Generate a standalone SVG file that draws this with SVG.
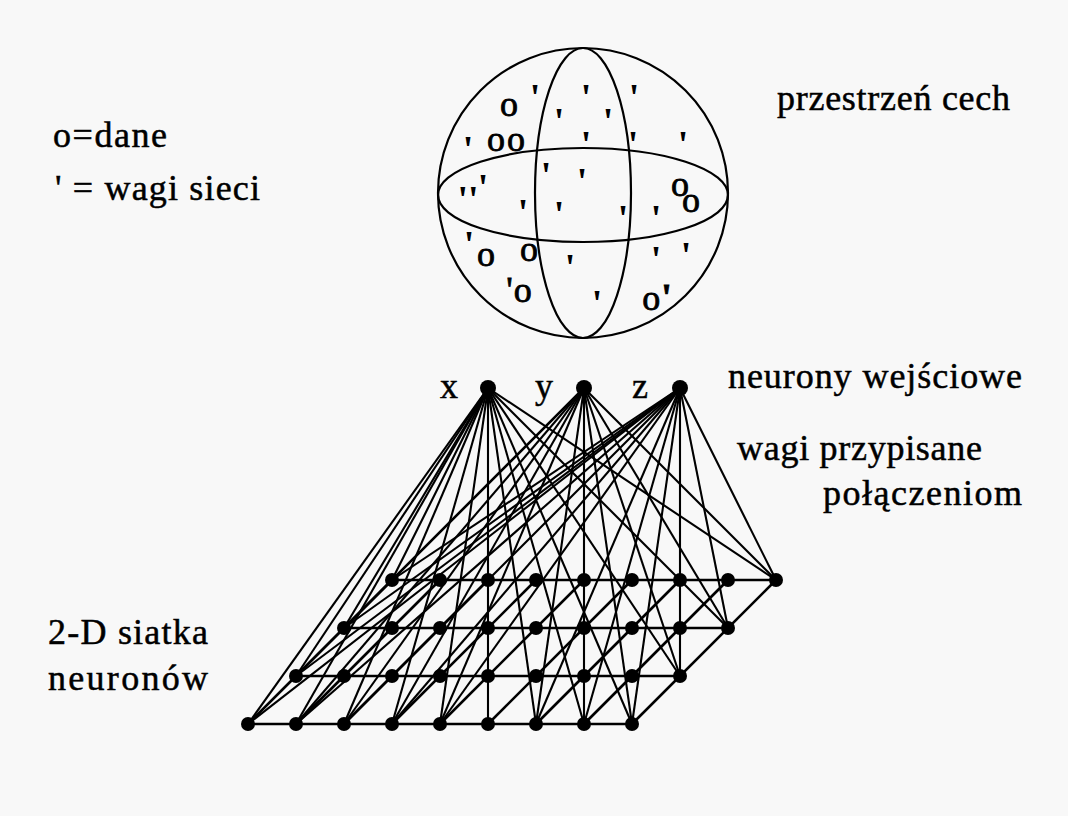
<svg xmlns="http://www.w3.org/2000/svg" width="1068" height="816" viewBox="0 0 1068 816">
<style>
.bg{fill:#f8f8f8}
.lbl{font-family:"Liberation Serif","Times New Roman",serif;font-size:36px;fill:#000;stroke:#000;stroke-width:0.5}
.mk{font-family:"Liberation Serif","Times New Roman",serif;font-size:36px;fill:#000;stroke:#000;stroke-width:0.8;text-anchor:middle}
.tk{font-family:"Liberation Serif","Times New Roman",serif;font-size:38px;font-weight:bold;fill:#000;text-anchor:middle}
.sph{fill:none;stroke:#000;stroke-width:2.2}
.grid line{stroke:#000;stroke-width:2.6}
.conn line{stroke:#000;stroke-width:2.1}
.dot{fill:#000}
</style>
<rect class="bg" x="0" y="0" width="1068" height="816"/>

<g id="legend">
<text class="lbl" x="53" y="147" textLength="114">o=dane</text>
<text class="lbl" x="55" y="200" textLength="205">' = wagi sieci</text>
</g>

<g id="feature-space">
<circle class="sph" cx="583" cy="193" r="145"/>
<ellipse class="sph" cx="583" cy="195" rx="145" ry="47"/>
<ellipse class="sph" cx="583" cy="193" rx="48" ry="145"/>
<g id="data-points">
<text class="mk" x="509" y="116">o</text>
<text class="mk" x="506" y="151">o<tspan dx="2">o</tspan></text>
<text class="mk" x="680" y="196">o<tspan x="691" dy="16">o</tspan></text>
<text class="mk" x="486" y="266">o</text>
<text class="mk" x="529" y="261">o</text>
<text class="mk" x="519" y="302">'<tspan dx="1">o</tspan></text>
<text class="mk" x="657" y="310">o<tspan class="tk" dx="1">'</tspan></text>
</g>
<g id="weights">
<text class="tk" x="535" y="110">'</text>
<text class="tk" x="586" y="110">'</text>
<text class="tk" x="634" y="110">'</text>
<text class="tk" x="559" y="134">'</text>
<text class="tk" x="608" y="134">'</text>
<text class="tk" x="468" y="162">'</text>
<text class="tk" x="586" y="157">'</text>
<text class="tk" x="633" y="157">'</text>
<text class="tk" x="683" y="157">'</text>
<text class="tk" x="546" y="188">'</text>
<text class="tk" x="582" y="194">'</text>
<text class="tk"><tspan x="483" y="200">'</tspan><tspan x="468" y="212">''</tspan></text>
<text class="tk" x="523" y="225">'</text>
<text class="tk" x="559" y="227">'</text>
<text class="tk" x="623" y="231">'</text>
<text class="tk" x="656" y="231">'</text>
<text class="tk" x="469" y="257">'</text>
<text class="tk" x="656" y="272">'</text>
<text class="tk" x="686" y="268">'</text>
<text class="tk" x="570" y="280">'</text>
<text class="tk" x="597" y="316">'</text>
</g>
</g>
<text class="lbl" x="777" y="110" textLength="233">przestrzeń cech</text>

<g id="connectors" class="conn">
<line x1="488" y1="388" x2="248" y2="724"/>
<line x1="488" y1="388" x2="296" y2="724"/>
<line x1="488" y1="388" x2="344" y2="724"/>
<line x1="488" y1="388" x2="392" y2="724"/>
<line x1="488" y1="388" x2="440" y2="724"/>
<line x1="488" y1="388" x2="488" y2="724"/>
<line x1="488" y1="388" x2="536" y2="724"/>
<line x1="488" y1="388" x2="584" y2="724"/>
<line x1="488" y1="388" x2="632" y2="724"/>
<line x1="488" y1="388" x2="296" y2="676"/>
<line x1="488" y1="388" x2="344" y2="628"/>
<line x1="488" y1="388" x2="392" y2="580"/>
<line x1="488" y1="388" x2="680" y2="676"/>
<line x1="488" y1="388" x2="728" y2="628"/>
<line x1="488" y1="388" x2="776" y2="580"/>

<line x1="584" y1="388" x2="248" y2="724"/>
<line x1="584" y1="388" x2="296" y2="724"/>
<line x1="584" y1="388" x2="344" y2="724"/>
<line x1="584" y1="388" x2="392" y2="724"/>
<line x1="584" y1="388" x2="440" y2="724"/>
<line x1="584" y1="388" x2="536" y2="724"/>
<line x1="584" y1="388" x2="584" y2="724"/>
<line x1="584" y1="388" x2="632" y2="724"/>
<line x1="584" y1="388" x2="296" y2="676"/>
<line x1="584" y1="388" x2="344" y2="628"/>
<line x1="584" y1="388" x2="680" y2="676"/>
<line x1="584" y1="388" x2="728" y2="628"/>
<line x1="584" y1="388" x2="776" y2="580"/>

<line x1="680" y1="388" x2="248" y2="724"/>
<line x1="680" y1="388" x2="296" y2="724"/>
<line x1="680" y1="388" x2="344" y2="724"/>
<line x1="680" y1="388" x2="392" y2="724"/>
<line x1="680" y1="388" x2="440" y2="724"/>
<line x1="680" y1="388" x2="536" y2="724"/>
<line x1="680" y1="388" x2="584" y2="724"/>
<line x1="680" y1="388" x2="632" y2="724"/>
<line x1="680" y1="388" x2="680" y2="676"/>
<line x1="680" y1="388" x2="728" y2="628"/>
<line x1="680" y1="388" x2="776" y2="580"/>
<line x1="680" y1="388" x2="392" y2="580"/>
<line x1="680" y1="388" x2="344" y2="628"/>
<line x1="680" y1="388" x2="296" y2="676"/>
</g>

<g id="grid-lines" class="grid">
<line x1="248" y1="724" x2="632" y2="724"/>
<line x1="296" y1="676" x2="680" y2="676"/>
<line x1="344" y1="628" x2="728" y2="628"/>
<line x1="392" y1="580" x2="776" y2="580"/>
<line x1="248" y1="724" x2="392" y2="580"/>
<line x1="296" y1="724" x2="440" y2="580"/>
<line x1="344" y1="724" x2="488" y2="580"/>
<line x1="392" y1="724" x2="536" y2="580"/>
<line x1="440" y1="724" x2="584" y2="580"/>
<line x1="488" y1="724" x2="632" y2="580"/>
<line x1="536" y1="724" x2="680" y2="580"/>
<line x1="584" y1="724" x2="728" y2="580"/>
<line x1="632" y1="724" x2="776" y2="580"/>
</g>

<g id="input-x"><circle class="dot" cx="488" cy="388" r="8"/><text class="lbl" x="440" y="398">x</text></g>
<g id="input-y"><circle class="dot" cx="584" cy="388" r="8"/><text class="lbl" x="535" y="398">y</text></g>
<g id="input-z"><circle class="dot" cx="680" cy="388" r="8"/><text class="lbl" x="632" y="398">z</text></g>
<text class="lbl" x="728" y="388" textLength="294">neurony wejściowe</text>
<text class="lbl" x="737" y="460" textLength="245">wagi przypisane</text>
<text class="lbl" x="823" y="505" textLength="199">połączeniom</text>

<g id="grid-nodes" class="dot">
<circle cx="248" cy="724" r="7"/><circle cx="296" cy="724" r="7"/><circle cx="344" cy="724" r="7"/><circle cx="392" cy="724" r="7"/><circle cx="440" cy="724" r="7"/><circle cx="488" cy="724" r="7"/><circle cx="536" cy="724" r="7"/><circle cx="584" cy="724" r="7"/><circle cx="632" cy="724" r="7"/>
<circle cx="296" cy="676" r="7"/><circle cx="344" cy="676" r="7"/><circle cx="392" cy="676" r="7"/><circle cx="440" cy="676" r="7"/><circle cx="488" cy="676" r="7"/><circle cx="536" cy="676" r="7"/><circle cx="584" cy="676" r="7"/><circle cx="632" cy="676" r="7"/><circle cx="680" cy="676" r="7"/>
<circle cx="344" cy="628" r="7"/><circle cx="392" cy="628" r="7"/><circle cx="440" cy="628" r="7"/><circle cx="488" cy="628" r="7"/><circle cx="536" cy="628" r="7"/><circle cx="584" cy="628" r="7"/><circle cx="632" cy="628" r="7"/><circle cx="680" cy="628" r="7"/><circle cx="728" cy="628" r="7"/>
<circle cx="392" cy="580" r="7"/><circle cx="440" cy="580" r="7"/><circle cx="488" cy="580" r="7"/><circle cx="536" cy="580" r="7"/><circle cx="584" cy="580" r="7"/><circle cx="632" cy="580" r="7"/><circle cx="680" cy="580" r="7"/><circle cx="728" cy="580" r="7"/><circle cx="776" cy="580" r="7"/>
</g>
<text class="lbl" x="48" y="644" textLength="160">2-D siatka</text>
<text class="lbl" x="48" y="690" textLength="160">neuronów</text>
</svg>
